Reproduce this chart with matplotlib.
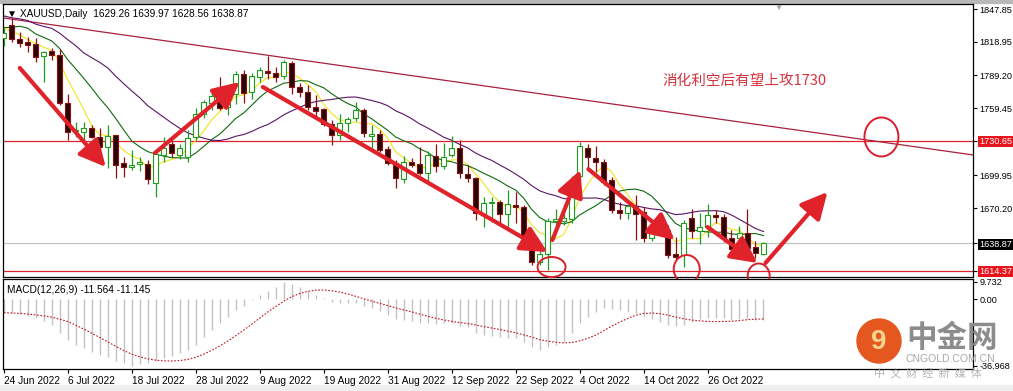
import matplotlib
matplotlib.use("Agg")
import matplotlib.pyplot as plt
import numpy as np
import pandas as pd
from matplotlib.patches import Ellipse, Rectangle

plt.rcParams["font.family"] = ["Liberation Sans", "DejaVu Sans"]

# XAUUSD daily bars, 24 Jun 2022 .. 4 Nov 2022
opens = [1822.0, 1834.0, 1821.0, 1818.6, 1816.9, 1806.2, 1810.6, 1807.0, 1764.5, 1739.5,
         1738.6, 1741.6, 1733.6, 1725.2, 1735.6, 1710.4, 1707.4, 1709.5, 1709.8, 1692.5,
         1717.8, 1727.6, 1717.8, 1716.3, 1733.6, 1754.4, 1764.5, 1771.4, 1760.4, 1772.0,
         1790.0, 1774.0, 1787.7, 1793.0, 1791.3, 1788.3, 1800.2, 1778.2, 1774.3, 1760.9,
         1758.6, 1745.5, 1735.6, 1746.6, 1750.5, 1758.0, 1735.0, 1736.3, 1722.9, 1710.4,
         1696.1, 1711.3, 1709.5, 1701.5, 1716.9, 1708.0, 1717.8, 1723.8, 1700.8, 1697.0,
         1664.2, 1674.7, 1675.6, 1665.0, 1673.0, 1671.0, 1644.8, 1622.5, 1629.4, 1659.1,
         1659.1, 1660.4, 1699.0, 1723.8, 1714.8, 1711.3, 1695.5, 1668.7, 1665.7, 1671.0,
         1667.2, 1643.4, 1649.9, 1650.8, 1629.4, 1628.5, 1661.3, 1650.2, 1653.2, 1664.2,
         1662.1, 1643.4, 1643.4, 1647.9, 1636.0, 1629.26]
highs = [1831.0, 1840.0, 1828.0, 1823.0, 1822.0, 1811.0, 1813.0, 1812.6, 1772.0, 1747.5,
         1747.5, 1745.0, 1741.8, 1744.6, 1736.0, 1716.0, 1722.0, 1716.0, 1713.3, 1719.5,
         1734.0, 1731.0, 1728.0, 1740.0, 1760.0, 1767.0, 1775.0, 1787.0, 1773.4, 1793.0,
         1794.0, 1791.0, 1796.0, 1806.0, 1796.0, 1803.0, 1801.5, 1782.0, 1780.5, 1771.0,
         1760.0, 1749.0, 1754.0, 1751.5, 1765.0, 1759.5, 1744.6, 1740.0, 1725.5, 1713.3,
         1717.0, 1715.0, 1725.0, 1721.0, 1728.0, 1728.8, 1734.8, 1731.2, 1709.0, 1698.4,
         1680.6, 1680.0, 1678.0, 1687.0, 1685.0, 1673.5, 1650.0, 1633.0, 1662.0, 1670.0,
         1672.0, 1699.0, 1729.6, 1728.0, 1726.0, 1714.0, 1698.0, 1676.0, 1674.0, 1682.0,
         1671.0, 1653.0, 1661.0, 1655.0, 1645.0, 1660.0, 1670.0, 1666.0, 1674.5, 1668.5,
         1665.0, 1651.0, 1654.0, 1669.6, 1641.0, 1639.97]
lows = [1815.0, 1819.0, 1814.5, 1810.0, 1801.0, 1783.0, 1803.0, 1762.0, 1731.0, 1734.0,
        1731.0, 1733.0, 1721.6, 1706.0, 1697.0, 1698.4, 1704.0, 1703.5, 1691.9, 1680.6,
        1711.8, 1716.0, 1714.0, 1712.0, 1731.0, 1751.0, 1758.0, 1758.0, 1753.5, 1763.0,
        1764.0, 1768.0, 1783.0, 1786.0, 1783.0, 1786.0, 1772.0, 1770.0, 1758.0, 1753.0,
        1744.0, 1727.0, 1731.0, 1738.0, 1748.5, 1733.5, 1723.8, 1720.5, 1709.0, 1688.0,
        1693.0, 1706.8, 1700.0, 1694.0, 1703.0, 1705.0, 1716.0, 1697.5, 1694.0, 1659.8,
        1653.8, 1658.0, 1657.0, 1653.5, 1656.8, 1641.5, 1620.0, 1620.0, 1615.0, 1650.0,
        1655.0, 1657.0, 1697.0, 1706.0, 1703.0, 1691.0, 1666.0, 1660.5, 1661.0, 1642.0,
        1640.0, 1641.0, 1647.0, 1626.0, 1624.0, 1618.0, 1644.0, 1638.0, 1645.0, 1657.0,
        1640.0, 1633.0, 1636.0, 1630.0, 1626.0, 1628.56]
closes = [1826.8, 1821.0, 1818.0, 1816.0, 1805.5, 1809.5, 1807.0, 1764.0, 1738.6, 1740.5,
          1742.0, 1733.6, 1725.2, 1734.8, 1708.9, 1706.8, 1708.9, 1711.3, 1696.1, 1718.7,
          1723.8, 1719.3, 1723.8, 1732.7, 1754.4, 1765.4, 1770.5, 1759.5, 1764.5, 1790.0,
          1773.4, 1788.0, 1793.7, 1790.7, 1787.7, 1801.0, 1778.8, 1774.3, 1760.9, 1757.3,
          1745.5, 1735.6, 1746.6, 1750.0, 1758.0, 1737.2, 1736.3, 1722.3, 1710.4, 1697.0,
          1711.8, 1708.9, 1701.5, 1717.8, 1708.0, 1716.3, 1723.8, 1701.5, 1697.0, 1665.7,
          1674.7, 1676.0, 1665.1, 1674.0, 1671.3, 1644.8, 1622.5, 1629.4, 1659.1, 1660.4,
          1661.3, 1694.0, 1725.8, 1715.7, 1711.3, 1694.0, 1668.7, 1665.7, 1672.3, 1665.0,
          1643.4, 1649.9, 1652.4, 1628.5, 1627.0, 1657.3, 1650.2, 1653.2, 1664.2, 1662.7,
          1643.4, 1633.9, 1647.9, 1634.5, 1630.0, 1638.87]
# closes before 24 Jun, only needed so the moving averages start at the right level
prev_closes = [1855.0, 1837.0, 1847.0, 1869.0, 1851.0, 1841.0, 1852.0, 1853.0, 1848.0, 1871.0,
               1819.0, 1808.0, 1834.0, 1857.0, 1840.0, 1839.0, 1832.0, 1838.0, 1822.0]

# MACD(12,26,9) main values
macd_main = [-7.4, -7.8, -8.2, -9.3, -10.6, -11.9, -14.3, -18.9, -22.6, -25.4,
             -27.2, -29.1, -30.9, -32.2, -34.1, -35.6, -36.97, -36.0, -35.2, -34.1,
             -32.8, -31.5, -30.0, -28.2, -25.4, -20.8, -17.1, -13.4, -9.6, -5.9,
             -3.7, -0.4, 2.4, 4.8, 6.7, 9.73, 8.8, 6.7, 4.8, 2.4,
             0.5, -1.3, -2.2, -2.2, -2.2, -3.7, -5.0, -6.3, -8.7, -11.1,
             -11.5, -11.9, -13.0, -13.4, -13.7, -13.4, -13.4, -14.8, -15.6, -18.9,
             -19.8, -20.4, -20.8, -21.7, -21.7, -23.5, -26.3, -28.2, -26.7, -25.4,
             -23.5, -18.9, -13.4, -9.6, -6.9, -5.0, -5.6, -5.9, -6.9, -7.8,
             -9.6, -11.1, -12.4, -14.3, -15.0, -14.0, -12.5, -11.0, -10.5, -10.3,
             -10.6, -11.2, -11.0, -10.8, -11.3, -11.564]

date_labels = ["24 Jun 2022", "6 Jul 2022", "18 Jul 2022", "28 Jul 2022", "9 Aug 2022",
               "19 Aug 2022", "31 Aug 2022", "12 Sep 2022", "22 Sep 2022", "4 Oct 2022",
               "14 Oct 2022", "26 Oct 2022"]
date_label_bars = [0, 8, 16, 24, 32, 40, 48, 56, 64, 72, 80, 88]

price_ticks = [1847.85, 1818.95, 1789.20, 1759.45, 1730.65, 1699.95, 1670.20, 1638.87, 1614.37]
resist_level = 1730.65
support_level = 1614.37
bid_level = 1638.87
trend_start = (0, 1840.1)
trend_end = (121.25, 1717.8)

# hand drawn arrows (tail, head) in (bar, price)
arrows = [((2.0, 1795.5), (12.75, 1707.1)),
          ((18.9, 1719.6), (29.5, 1783.0)),
          ((32.4, 1778.5), (68.0, 1631.2)),
          ((68.6, 1641.9), (72.1, 1704.4)),
          ((73.1, 1705.2), (83.9, 1641.9)),
          ((88.0, 1653.5), (94.25, 1621.4)),
          ((95.25, 1621.4), (103.0, 1684.8))]
circles = [((109.75, 1733.9), 4.25, 34.8),
           ((68.5, 1617.8), 3.5, 17.9),
           ((85.4, 1616.0), 3.25, 25.0),
           ((94.4, 1609.8), 2.75, 22.3)]

RED = "#e0232b"
BULL = "#1e9e1e"
BEAR_EDGE = "#8b1010"
BEAR_FILL = "#2a0606"
TICK_FS = 7.3
YLBL_FS = 6.6

o = np.array(opens)
h = np.array(highs)
l = np.array(lows)
c = np.array(closes)
idx = np.arange(len(c))

all_close = pd.Series(prev_closes + closes)
n_prev = len(prev_closes)
ma5 = all_close.rolling(5).mean().values[n_prev:]
ma10 = all_close.rolling(10).mean().values[n_prev:]
ma20 = all_close.rolling(20, min_periods=1).mean().values[n_prev:]

macd = pd.Series(macd_main)
signal = macd.rolling(9, min_periods=1).mean()

fig = plt.figure(figsize=(10.13, 3.91), dpi=100)
fig.patch.set_facecolor("white")
W, H = 1013.0, 391.0

ax = fig.add_axes([3 / W, 1 - 277 / H, 970 / W, 273 / H])
ax2 = fig.add_axes([3 / W, 1 - 369 / H, 970 / W, 90 / H])

xlim = (-0.1, 121.2)

# ---- price panel
up = c >= o
ax.vlines(idx[up], l[up], h[up], color=BULL, lw=0.9, zorder=3)
ax.vlines(idx[~up], l[~up], h[~up], color=BEAR_EDGE, lw=0.9, zorder=3)
body_lo = np.minimum(o, c)
body_h = np.maximum(np.abs(c - o), 0.8)
ax.bar(idx[up], body_h[up], bottom=body_lo[up], width=0.62, color="white",
       edgecolor=BULL, lw=0.8, zorder=4)
ax.bar(idx[~up], body_h[~up], bottom=body_lo[~up], width=0.62, color=BEAR_FILL,
       edgecolor=BEAR_EDGE, lw=0.8, zorder=4)

ax.plot(idx, ma5, color="#f2e21c", lw=0.8, zorder=2)
ax.plot(idx, ma10, color="#0d6b0d", lw=0.8, zorder=2)
ax.plot(idx, ma20, color="#5a1466", lw=0.8, zorder=2)

ax.axhline(resist_level, color=RED, lw=0.9, zorder=1)
ax.axhline(support_level, color=RED, lw=0.9, zorder=1)
ax.axhline(bid_level, color="#c4c4c4", lw=0.9, zorder=1)
ax.plot([trend_start[0], trend_end[0]], [trend_start[1], trend_end[1]],
        color="#a8203c", lw=0.9, zorder=1)

for tail, head in arrows:
    ax.annotate("", xy=head, xytext=tail,
                arrowprops=dict(arrowstyle="-|>,head_length=1.6,head_width=0.8",
                                lw=3.0, color=RED, shrinkA=0, shrinkB=0),
                annotation_clip=False, zorder=6)
for (cx, cy), w, hh in circles:
    ax.add_patch(Ellipse((cx, cy), w, hh, fill=False, ec="#d8202c", lw=1.4,
                         clip_on=False, zorder=6))

ax.text(82.3, 1784.0, "消化利空后有望上攻1730", color="#d6323c", fontsize=10.5,
        family=["Noto Sans CJK SC", "DejaVu Sans"], va="center", ha="left")
ax.text(0.004, 0.982, "\u25BC XAUUSD,Daily  1629.26 1639.97 1628.56 1638.87",
        transform=ax.transAxes, fontsize=TICK_FS, va="top", ha="left")

ax.set_xlim(*xlim)
ax.set_ylim(1608.9, 1852.6)
ax.yaxis.tick_right()
ax.set_yticks(price_ticks)
ax.set_yticklabels(["%.2f" % v for v in price_ticks])
ax.tick_params(axis="y", direction="out", length=3, labelsize=YLBL_FS, pad=1.5)
ax.set_xticks([])
for lbl in ax.get_yticklabels():
    t = lbl.get_text()
    if t in ("1730.65", "1614.37"):
        lbl.set_color("white")
        lbl.set_bbox(dict(facecolor="#e8141c", edgecolor="none", pad=0.8))
    elif t == "1638.87":
        lbl.set_color("white")
        lbl.set_bbox(dict(facecolor="black", edgecolor="none", pad=0.8))
for sp in ax.spines.values():
    sp.set_linewidth(0.9)

# ---- MACD panel
ax2.vlines(idx, 0, macd.values, color="#c2c2c2", lw=1.0)
ax2.plot(idx, signal.values, color="#c0141e", lw=0.8, ls=(0, (1.5, 1.5)))
ax2.text(0.004, 0.93, "MACD(12,26,9) -11.564 -11.145", transform=ax2.transAxes,
         fontsize=TICK_FS, va="top", ha="left")
ax2.set_xlim(*xlim)
ax2.set_ylim(-38.7, 11.3)
ax2.yaxis.tick_right()
ax2.set_yticks([9.732, 0.0, -36.968])
ax2.set_yticklabels(["9.732", "0.00", "-36.968"])
ax2.tick_params(axis="y", direction="out", length=3, labelsize=YLBL_FS, pad=1.5)
ax2.set_xticks(date_label_bars)
ax2.set_xticklabels(date_labels, ha="left")
ax2.tick_params(axis="x", direction="out", length=3, labelsize=TICK_FS, pad=2)
for sp in ax2.spines.values():
    sp.set_linewidth(0.9)

# ---- window frame and watermark
fig.add_artist(Rectangle((0, 1 - 3 / H), 1, 3 / H, transform=fig.transFigure,
                         color="#b8b8b8", zorder=0))
fig.add_artist(Rectangle((0, 0), 1, 6 / H, transform=fig.transFigure,
                         color="#efefef", zorder=0))
fig.text(778 / W, 1 - 8 / H, "\u25BC", color="#a0a0a0", fontsize=6, ha="center", va="center")

fig.add_artist(Ellipse((879 / W, 1 - 341 / H), 44 / W, 44 / H, transform=fig.transFigure,
                       color="#e4571f", zorder=10))
fig.text(879 / W, 1 - 342 / H, "9", color="#f7d58d", fontsize=20, fontweight="bold",
         ha="center", va="center", zorder=11)
fig.text(952 / W, 1 - 338 / H, "中金网", color="#8c8c8c", fontsize=22, fontweight="bold",
         family=["Noto Sans CJK SC", "DejaVu Sans"], ha="center", va="center", zorder=10)
fig.text(950 / W, 1 - 359 / H, "CNGOLD.COM.CN", color="#a8a8a8", fontsize=7.5,
         ha="center", va="center", zorder=10)
fig.text(928 / W, 1 - 373 / H, "中  文  财  经  新  媒  体", color="#b4b4b4", fontsize=8,
         family=["Noto Sans CJK SC", "DejaVu Sans"], ha="center", va="center", zorder=10)

fig.savefig("out.png", dpi=100)
